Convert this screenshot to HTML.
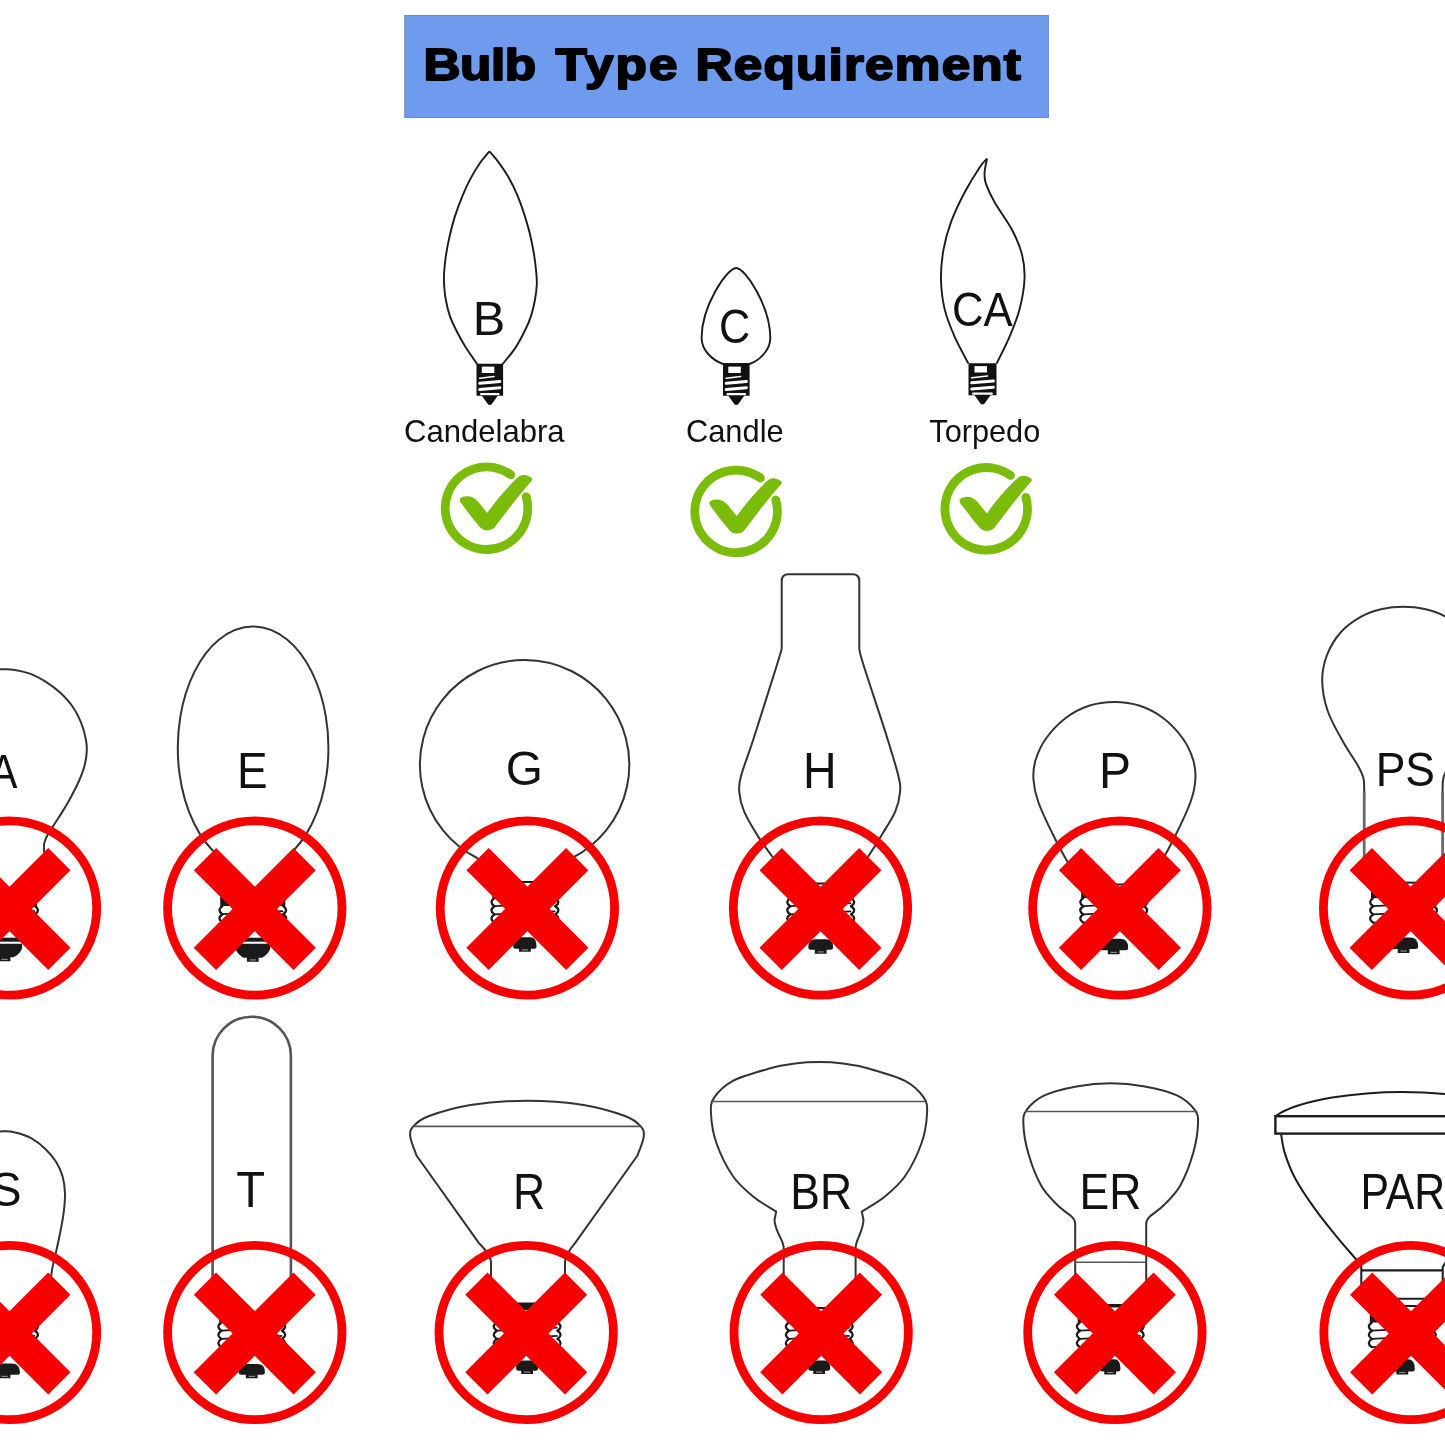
<!DOCTYPE html>
<html lang="en"><head><meta charset="utf-8"><title>Bulb Type Requirement</title>
<style>
html,body{margin:0;padding:0;background:#fff;}
body{width:1445px;height:1445px;overflow:hidden;}
svg{display:block;}
</style></head><body>
<svg width="1445" height="1445" viewBox="0 0 1445 1445">
<rect width="1445" height="1445" fill="#fff"/>
<rect x="404.8" y="15.5" width="643.6" height="102" fill="#6e9bee" stroke="#6589d0" stroke-width="1"/>
<path d="M 489.5 151.3 C 487.9 153.3 483.1 158.5 479.8 163.3 C 476.6 168.0 472.9 174.1 469.9 179.9 C 466.8 185.7 464.1 192.0 461.6 198.1 C 459.1 204.2 456.9 210.0 454.9 216.4 C 452.9 222.8 451.1 229.7 449.6 236.3 C 448.1 243.0 446.7 250.2 445.8 256.3 C 444.9 262.4 444.4 268.2 444.1 272.9 C 443.8 277.6 443.8 280.1 444.1 284.5 C 444.4 288.9 444.8 294.2 445.8 299.5 C 446.7 304.7 448.1 310.8 449.9 316.1 C 451.7 321.3 454.1 326.0 456.6 331.0 C 459.1 336.0 461.5 340.5 464.9 346.0 C 468.3 351.5 475.1 361.1 477.2 364.1" fill="none" stroke="#1c1c1c" stroke-width="1.9" stroke-linejoin="round"/>
<path d="M 489.5 151.3 C 490.9 153.0 495.0 157.4 498.1 161.6 C 501.2 165.8 504.9 171.0 508.1 176.5 C 511.3 182.1 514.6 188.7 517.2 194.8 C 519.8 200.9 521.8 206.7 523.9 213.1 C 525.9 219.5 528.0 226.4 529.7 233.0 C 531.3 239.7 532.7 246.3 533.8 253.0 C 534.9 259.6 535.8 267.6 536.3 272.9 C 536.8 278.2 537.0 280.1 536.8 284.5 C 536.6 288.9 536.0 294.2 535.0 299.5 C 534.0 304.7 532.7 310.8 531.0 316.1 C 529.3 321.3 527.3 325.8 524.7 331.0 C 522.1 336.3 519.2 342.1 515.5 347.6 C 511.9 353.2 504.8 361.3 502.6 364.1" fill="none" stroke="#1c1c1c" stroke-width="1.9" stroke-linejoin="round"/>
<path d="M 476.5 363.7 H 503.1 V 395.7 L 497.8 395.7 L 491.3 404.7 L 488.3 404.7 L 481.8 395.7 H 476.5 Z" fill="#111"/>
<rect x="481.8" y="366.6" width="12.5" height="6.4" fill="#fff"/>
<line x1="479.7" y1="378.3" x2="494.1" y2="376.5" stroke="#fff" stroke-width="1.6" stroke-linecap="round"/>
<line x1="479.7" y1="383.3" x2="499.9" y2="381.5" stroke="#fff" stroke-width="3.0" stroke-linecap="round"/>
<line x1="479.7" y1="389.5" x2="499.9" y2="387.7" stroke="#fff" stroke-width="3.0" stroke-linecap="round"/>
<line x1="481.2" y1="394.1" x2="498.4" y2="394.1" stroke="#fff" stroke-width="2.4" stroke-linecap="round"/>
<path d="M 736.3 268 C 727 268 701.6 306 701.6 338 C 701.6 350 712 360 723 364 L 749.6 364 C 760 360 770.3 350 770.3 338 C 770.3 306 745 268 736.3 268 Z" fill="none" stroke="#1c1c1c" stroke-width="1.9" stroke-linejoin="round"/>
<path d="M 723.0 363.7 H 749.6 V 395.7 L 744.3 395.7 L 737.8 404.7 L 734.8 404.7 L 728.3 395.7 H 723.0 Z" fill="#111"/>
<rect x="728.3" y="366.6" width="12.5" height="6.4" fill="#fff"/>
<line x1="726.2" y1="378.3" x2="740.6" y2="376.5" stroke="#fff" stroke-width="1.6" stroke-linecap="round"/>
<line x1="726.2" y1="383.3" x2="746.4" y2="381.5" stroke="#fff" stroke-width="3.0" stroke-linecap="round"/>
<line x1="726.2" y1="389.5" x2="746.4" y2="387.7" stroke="#fff" stroke-width="3.0" stroke-linecap="round"/>
<line x1="727.7" y1="394.1" x2="744.9" y2="394.1" stroke="#fff" stroke-width="2.4" stroke-linecap="round"/>
<path d="M 987.0 158.7 C 986.6 161.0 984.8 168.2 984.6 172.4 C 984.4 176.6 984.2 178.6 985.9 183.6 C 987.6 188.6 990.2 194.6 994.6 202.3 C 999.0 210.0 1007.4 221.0 1012.0 229.7 C 1016.6 238.4 1019.9 246.3 1022.0 254.6 C 1024.1 262.9 1024.9 270.4 1024.5 279.5 C 1024.1 288.6 1022.0 299.8 1019.5 309.4 C 1017.0 319.0 1013.3 327.9 1009.5 336.9 C 1005.7 345.9 998.8 359.1 996.6 363.5" fill="none" stroke="#1c1c1c" stroke-width="1.9"/>
<path d="M 987.0 158.7 C 985.8 160.1 983.3 161.8 979.6 167.4 C 975.9 173.0 969.5 183.2 964.7 192.3 C 959.9 201.4 954.5 212.6 951.0 222.2 C 947.5 231.8 945.2 240.0 943.5 249.6 C 941.8 259.1 940.8 269.5 941.0 279.5 C 941.2 289.5 942.4 299.8 944.7 309.4 C 947.0 319.0 950.8 327.9 954.7 336.9 C 958.7 345.9 966.1 359.1 968.4 363.5" fill="none" stroke="#1c1c1c" stroke-width="1.9"/>
<path d="M 968.5 363.2 H 996.5 V 395.2 L 990.5 395.2 L 984.0 404.2 L 981.0 404.2 L 974.5 395.2 H 968.5 Z" fill="#111"/>
<rect x="974.5" y="366.1" width="12.5" height="6.4" fill="#fff"/>
<line x1="971.7" y1="377.8" x2="987.5" y2="376.0" stroke="#fff" stroke-width="1.6" stroke-linecap="round"/>
<line x1="971.7" y1="382.8" x2="993.3" y2="381.0" stroke="#fff" stroke-width="3.0" stroke-linecap="round"/>
<line x1="971.7" y1="389.0" x2="993.3" y2="387.2" stroke="#fff" stroke-width="3.0" stroke-linecap="round"/>
<line x1="973.2" y1="393.6" x2="991.8" y2="393.6" stroke="#fff" stroke-width="2.4" stroke-linecap="round"/>
<path d="M 510.8 474.8 A 41.3 41.3 0 1 0 526.2 496.8" fill="none" stroke="#7bbc0a" stroke-width="8.8" stroke-linecap="round"/><path transform="translate(0.0 0.0)" d="M 459.8 500.5 C 459.5 498 462 496.7 466 496.3 C 471 496 474.5 498 477.5 501 L 487.2 512.9 C 497 499 510 484 519.6 476.1 C 523 473.8 529 475.5 532 478.6 C 532.5 479.5 532 480.5 531.4 481 C 520 494 507 511 496 525.5 C 494 528.8 491 530.4 487.2 530.4 C 483.5 530.4 480.8 528.8 479 526 C 472 518 466 509.5 460.4 502.3 Z" fill="#7bbc0a"/>
<path d="M 760.4 478.0 A 41.3 41.3 0 1 0 775.8 500.0" fill="none" stroke="#7bbc0a" stroke-width="8.8" stroke-linecap="round"/><path transform="translate(249.6 3.2)" d="M 459.8 500.5 C 459.5 498 462 496.7 466 496.3 C 471 496 474.5 498 477.5 501 L 487.2 512.9 C 497 499 510 484 519.6 476.1 C 523 473.8 529 475.5 532 478.6 C 532.5 479.5 532 480.5 531.4 481 C 520 494 507 511 496 525.5 C 494 528.8 491 530.4 487.2 530.4 C 483.5 530.4 480.8 528.8 479 526 C 472 518 466 509.5 460.4 502.3 Z" fill="#7bbc0a"/>
<path d="M 1010.5 475.4 A 41.3 41.3 0 1 0 1025.9 497.4" fill="none" stroke="#7bbc0a" stroke-width="8.8" stroke-linecap="round"/><path transform="translate(499.7 0.6)" d="M 459.8 500.5 C 459.5 498 462 496.7 466 496.3 C 471 496 474.5 498 477.5 501 L 487.2 512.9 C 497 499 510 484 519.6 476.1 C 523 473.8 529 475.5 532 478.6 C 532.5 479.5 532 480.5 531.4 481 C 520 494 507 511 496 525.5 C 494 528.8 491 530.4 487.2 530.4 C 483.5 530.4 480.8 528.8 479 526 C 472 518 466 509.5 460.4 502.3 Z" fill="#7bbc0a"/>
<path d="M 44.1 864.2 C 44.1 861.9 44.0 854.0 44.1 850.5 C 44.1 846.9 43.8 845.5 44.3 843.0 C 44.9 840.5 45.8 838.4 47.3 835.5 C 48.9 832.6 51.1 829.5 53.5 825.6 C 56.0 821.6 59.4 816.6 62.3 811.9 C 65.2 807.1 68.3 801.9 71.0 796.9 C 73.7 791.9 76.3 786.9 78.5 782.0 C 80.7 777.0 82.8 772.0 84.2 767.0 C 85.6 762.0 86.4 756.6 86.7 752.1 C 87.0 747.5 86.9 744.6 85.9 739.6 C 85.0 734.6 83.2 727.8 80.9 722.2 C 78.7 716.6 75.8 711.0 72.2 706.0 C 68.7 701.0 64.3 696.5 59.8 692.3 C 55.2 688.2 49.8 684.2 44.8 681.1 C 39.9 678.0 34.9 675.5 29.9 673.6 C 24.9 671.8 19.2 670.6 14.9 669.9 C 10.7 669.2 8.0 669.3 4.5 669.3 C 1.0 669.3 -1.7 669.2 -5.9 669.9 C -10.2 670.6 -15.9 671.8 -20.9 673.6 C -25.9 675.5 -30.9 678.0 -35.8 681.1 C -40.8 684.2 -46.2 688.2 -50.8 692.3 C -55.3 696.5 -59.7 701.0 -63.2 706.0 C -66.8 711.0 -69.7 716.6 -71.9 722.2 C -74.2 727.8 -76.0 734.6 -76.9 739.6 C -77.9 744.6 -78.0 747.5 -77.7 752.1 C -77.4 756.6 -76.6 762.0 -75.2 767.0 C -73.8 772.0 -71.7 777.0 -69.5 782.0 C -67.3 786.9 -64.7 791.9 -62.0 796.9 C -59.3 801.9 -56.2 807.1 -53.3 811.9 C -50.4 816.6 -47.0 821.6 -44.5 825.6 C -42.1 829.5 -39.9 832.6 -38.3 835.5 C -36.8 838.4 -35.9 840.5 -35.3 843.0 C -34.8 845.5 -35.1 846.9 -35.1 850.5 C -35.0 854.0 -35.1 861.9 -35.1 864.2" fill="none" stroke="#333" stroke-width="2.0" stroke-linejoin="round"/>
<rect x="-28.1" y="897.0" width="65.1" height="9" fill="#1a1a1a"/>
<path d="M -25.9 906.0 q -6 4.1 0 8.2 M 35.0 906.0 q 6 4.1 0 8.2" fill="none" stroke="#1a1a1a" stroke-width="2.3" stroke-linecap="round"/>
<line x1="-25.9" y1="914.2" x2="35.0" y2="911.2" stroke="#1a1a1a" stroke-width="1.8"/>
<path d="M -25.9 914.2 q -6 4.1 0 8.2 M 35.0 914.2 q 6 4.1 0 8.2" fill="none" stroke="#1a1a1a" stroke-width="2.3" stroke-linecap="round"/>
<line x1="-25.9" y1="922.4" x2="35.0" y2="919.4" stroke="#1a1a1a" stroke-width="1.8"/>
<path d="M -25.9 922.4 q -6 4.1 0 8.2 M 35.0 922.4 q 6 4.1 0 8.2" fill="none" stroke="#1a1a1a" stroke-width="2.3" stroke-linecap="round"/>
<line x1="-25.9" y1="930.6" x2="35.0" y2="927.6" stroke="#1a1a1a" stroke-width="1.8"/>
<rect x="-15.0" y="937.7" width="39.0" height="4" fill="#1a1a1a"/>
<path d="M -13.0 943.7 H 22.0 V 948.2 C 21.0 952.7 15.3 956.8 13.2 957.3 H 10.4 V 961.3 H -1.4 V 957.3 H -4.2 C -6.3 956.8 -12.0 952.7 -13.0 948.2 Z" fill="#1a1a1a"/>
<rect x="1.3" y="958.8" width="6.4" height="1.2" fill="#8a8a8a"/>
<path d="M 220.1 876 L 218.6 856.0 A 75.3 121.5 0 1 1 287.6 856.0 L 286.1 876" fill="none" stroke="#333" stroke-width="2.0" stroke-linejoin="round"/>
<rect x="220.2" y="897.0" width="65.1" height="9" fill="#1a1a1a"/>
<path d="M 222.4 906.0 q -6 4.1 0 8.2 M 283.2 906.0 q 6 4.1 0 8.2" fill="none" stroke="#1a1a1a" stroke-width="2.3" stroke-linecap="round"/>
<line x1="222.4" y1="914.2" x2="283.2" y2="911.2" stroke="#1a1a1a" stroke-width="1.8"/>
<path d="M 222.4 914.2 q -6 4.1 0 8.2 M 283.2 914.2 q 6 4.1 0 8.2" fill="none" stroke="#1a1a1a" stroke-width="2.3" stroke-linecap="round"/>
<line x1="222.4" y1="922.4" x2="283.2" y2="919.4" stroke="#1a1a1a" stroke-width="1.8"/>
<path d="M 222.4 922.4 q -6 4.1 0 8.2 M 283.2 922.4 q 6 4.1 0 8.2" fill="none" stroke="#1a1a1a" stroke-width="2.3" stroke-linecap="round"/>
<line x1="222.4" y1="930.6" x2="283.2" y2="927.6" stroke="#1a1a1a" stroke-width="1.8"/>
<rect x="233.3" y="937.7" width="39.0" height="4" fill="#1a1a1a"/>
<path d="M 235.3 943.7 H 270.3 V 948.2 C 269.3 952.7 263.7 957.3 261.6 957.8 H 258.7 V 961.8 H 246.9 V 957.8 H 244.1 C 242.0 957.3 236.3 952.7 235.3 948.2 Z" fill="#1a1a1a"/>
<rect x="249.6" y="959.3" width="6.4" height="1.2" fill="#8a8a8a"/>
<path d="M 557.6 880 L 572.1 858.0 A 104.7 104.7 0 1 0 477.1 858.0 L 491.6 880" fill="none" stroke="#333" stroke-width="2.0" stroke-linejoin="round"/>
<rect x="509.9" y="881.0" width="30.0" height="2.0" fill="#1a1a1a"/>
<rect x="492.3" y="889.0" width="65.1" height="9" fill="#1a1a1a"/>
<path d="M 494.4 898.0 q -6 4.1 0 8.2 M 555.4 898.0 q 6 4.1 0 8.2" fill="none" stroke="#1a1a1a" stroke-width="2.3" stroke-linecap="round"/>
<line x1="494.4" y1="906.2" x2="555.4" y2="903.2" stroke="#1a1a1a" stroke-width="1.8"/>
<path d="M 494.4 906.2 q -6 4.1 0 8.2 M 555.4 906.2 q 6 4.1 0 8.2" fill="none" stroke="#1a1a1a" stroke-width="2.3" stroke-linecap="round"/>
<line x1="494.4" y1="914.4" x2="555.4" y2="911.4" stroke="#1a1a1a" stroke-width="1.8"/>
<path d="M 494.4 914.4 q -6 4.1 0 8.2 M 555.4 914.4 q 6 4.1 0 8.2" fill="none" stroke="#1a1a1a" stroke-width="2.3" stroke-linecap="round"/>
<line x1="494.4" y1="922.6" x2="555.4" y2="919.6" stroke="#1a1a1a" stroke-width="1.8"/>
<path d="M 513.2 946.3 Q 513.2 937.3 519.6 937.3 H 530.2 Q 536.6 937.3 536.6 946.3 Q 536.6 948.8 534.1 948.8 H 530.8 V 951.8 H 519.0 V 948.8 H 515.7 Q 513.2 948.8 513.2 946.3 Z" fill="#1a1a1a"/>
<rect x="521.7" y="949.3" width="6.4" height="1.2" fill="#8a8a8a"/>
<path d="M 781.7 649.1 V 581 Q 781.7 574.3 788.5 574.3 H 852.5 Q 859.3 574.3 859.3 581 V 649.1" fill="none" stroke="#333" stroke-width="2.0" stroke-linejoin="round"/>
<path d="M 781.7 649.1 C 780.7 652.3 780.6 653.4 775.9 668.2 C 771.2 683.1 759.5 720.2 753.7 738.2 C 747.9 756.2 743.3 767.4 740.9 776.4 C 738.5 785.4 738.8 786.5 739.3 792.3 C 739.8 798.1 740.9 804.0 744.1 811.4 C 747.3 818.8 753.6 829.3 758.4 836.9 C 763.1 844.5 768.0 850.6 772.6 857.0 C 777.2 863.4 783.8 872.0 786.0 875.0" fill="none" stroke="#333" stroke-width="2.0" stroke-linejoin="round"/>
<path d="M 859.3 649.1 C 860.0 651.8 858.8 650.1 863.5 665.0 C 868.2 679.9 881.5 719.6 887.3 738.2 C 893.1 756.8 896.4 767.4 898.5 776.4 C 900.6 785.4 900.5 786.5 900.0 792.3 C 899.5 798.1 898.2 804.5 895.3 811.4 C 892.4 818.3 887.0 826.3 882.5 833.7 C 878.0 841.1 873.1 849.1 868.5 856.0 C 863.9 862.9 857.2 871.8 855.0 875.0" fill="none" stroke="#333" stroke-width="2.0" stroke-linejoin="round"/>
<rect x="790.7" y="882.5" width="60.0" height="2.0" fill="#1a1a1a"/>
<rect x="788.2" y="889.0" width="65.1" height="9" fill="#1a1a1a"/>
<path d="M 790.2 898.0 q -6 4.1 0 8.2 M 851.2 898.0 q 6 4.1 0 8.2" fill="none" stroke="#1a1a1a" stroke-width="2.3" stroke-linecap="round"/>
<line x1="790.2" y1="906.2" x2="851.2" y2="903.2" stroke="#1a1a1a" stroke-width="1.8"/>
<path d="M 790.2 906.2 q -6 4.1 0 8.2 M 851.2 906.2 q 6 4.1 0 8.2" fill="none" stroke="#1a1a1a" stroke-width="2.3" stroke-linecap="round"/>
<line x1="790.2" y1="914.4" x2="851.2" y2="911.4" stroke="#1a1a1a" stroke-width="1.8"/>
<path d="M 790.2 914.4 q -6 4.1 0 8.2 M 851.2 914.4 q 6 4.1 0 8.2" fill="none" stroke="#1a1a1a" stroke-width="2.3" stroke-linecap="round"/>
<line x1="790.2" y1="922.6" x2="851.2" y2="919.6" stroke="#1a1a1a" stroke-width="1.8"/>
<path d="M 808.3 947.3 Q 808.3 939.3 815.1 939.3 H 826.3 Q 833.1 939.3 833.1 947.3 Q 833.1 949.8 830.6 949.8 H 826.6 V 953.8 H 814.8 V 949.8 H 810.8 Q 808.3 949.8 808.3 947.3 Z" fill="#1a1a1a"/>
<rect x="817.5" y="951.3" width="6.4" height="1.2" fill="#8a8a8a"/>
<path d="M 1148.3 880.0 C 1150.5 877.0 1156.7 869.3 1161.3 861.7 C 1165.9 854.1 1171.1 844.2 1176.0 834.3 C 1180.9 824.3 1187.3 811.0 1190.5 802.0 C 1193.7 793.0 1194.9 787.0 1195.3 780.0 C 1195.8 773.0 1195.3 766.9 1193.2 760.0 C 1191.1 753.1 1187.8 745.5 1182.8 738.5 C 1177.8 731.5 1170.3 723.5 1163.1 718.0 C 1155.9 712.5 1147.9 708.5 1139.8 705.8 C 1131.7 703.1 1122.9 702.0 1114.4 702.0 C 1105.9 702.0 1097.1 703.1 1089.0 705.8 C 1080.9 708.5 1072.9 712.5 1065.7 718.0 C 1058.5 723.5 1051.0 731.5 1046.0 738.5 C 1041.0 745.5 1037.7 753.1 1035.6 760.0 C 1033.5 766.9 1033.0 773.0 1033.5 780.0 C 1034.0 787.0 1035.1 793.0 1038.3 802.0 C 1041.5 811.0 1047.9 824.3 1052.8 834.3 C 1057.7 844.2 1062.9 854.1 1067.5 861.7 C 1072.1 869.3 1078.3 877.0 1080.5 880.0" fill="none" stroke="#333" stroke-width="2.0" stroke-linejoin="round"/>
<rect x="1083.7" y="883.5" width="60.0" height="2.0" fill="#1a1a1a"/>
<rect x="1081.2" y="889.0" width="65.1" height="9" fill="#1a1a1a"/>
<path d="M 1083.2 898.0 q -6 4.1 0 8.2 M 1144.2 898.0 q 6 4.1 0 8.2" fill="none" stroke="#1a1a1a" stroke-width="2.3" stroke-linecap="round"/>
<line x1="1083.2" y1="906.2" x2="1144.2" y2="903.2" stroke="#1a1a1a" stroke-width="1.8"/>
<path d="M 1083.2 906.2 q -6 4.1 0 8.2 M 1144.2 906.2 q 6 4.1 0 8.2" fill="none" stroke="#1a1a1a" stroke-width="2.3" stroke-linecap="round"/>
<line x1="1083.2" y1="914.4" x2="1144.2" y2="911.4" stroke="#1a1a1a" stroke-width="1.8"/>
<path d="M 1083.2 914.4 q -6 4.1 0 8.2 M 1144.2 914.4 q 6 4.1 0 8.2" fill="none" stroke="#1a1a1a" stroke-width="2.3" stroke-linecap="round"/>
<line x1="1083.2" y1="922.6" x2="1144.2" y2="919.6" stroke="#1a1a1a" stroke-width="1.8"/>
<path d="M 1099.2 947.8 Q 1099.2 938.8 1107.2 938.8 H 1120.2 Q 1128.2 938.8 1128.2 947.8 Q 1128.2 950.3 1125.7 950.3 H 1119.6 V 954.3 H 1107.8 V 950.3 H 1101.7 Q 1099.2 950.3 1099.2 947.8 Z" fill="#1a1a1a"/>
<rect x="1110.5" y="951.8" width="6.4" height="1.2" fill="#8a8a8a"/>
<path d="M 1442.6 800.0 C 1442.6 798.3 1442.5 793.7 1442.6 790.0 C 1442.7 786.3 1442.4 782.0 1443.4 778.0 C 1444.4 774.0 1445.3 772.0 1448.7 765.9 C 1452.1 759.8 1458.8 750.6 1463.9 741.5 C 1469.0 732.4 1475.7 721.1 1479.1 711.0 C 1482.6 700.9 1484.5 689.9 1484.6 680.6 C 1484.7 671.3 1482.9 663.1 1479.8 655.0 C 1476.7 646.9 1471.5 638.4 1465.8 632.0 C 1460.1 625.6 1452.4 620.4 1445.6 616.6 C 1438.8 612.8 1431.8 610.6 1424.8 609.0 C 1417.8 607.4 1410.5 606.8 1403.4 606.8 C 1396.3 606.8 1389.0 607.4 1382.0 609.0 C 1375.0 610.6 1368.0 612.8 1361.2 616.6 C 1354.4 620.4 1346.7 625.6 1341.0 632.0 C 1335.3 638.4 1330.1 646.9 1327.0 655.0 C 1323.9 663.1 1322.1 671.3 1322.2 680.6 C 1322.3 689.9 1324.2 700.9 1327.7 711.0 C 1331.2 721.1 1337.8 732.4 1342.9 741.5 C 1348.0 750.6 1354.7 759.8 1358.1 765.9 C 1361.5 772.0 1362.4 774.0 1363.4 778.0 C 1364.4 782.0 1364.1 786.3 1364.2 790.0 C 1364.3 793.7 1364.2 798.3 1364.2 800.0" fill="none" stroke="#333" stroke-width="2.0" stroke-linejoin="round"/>
<path d="M 1364.2 792 V 880 M 1442.6 792 V 880" fill="none" stroke="#666" stroke-width="2.7" stroke-linejoin="round"/>
<rect x="1373.6" y="881.7" width="60.0" height="1.9" fill="#1a1a1a"/>
<rect x="1371.0" y="889.0" width="65.1" height="9" fill="#1a1a1a"/>
<path d="M 1373.1 898.0 q -6 4.1 0 8.2 M 1434.0 898.0 q 6 4.1 0 8.2" fill="none" stroke="#1a1a1a" stroke-width="2.3" stroke-linecap="round"/>
<line x1="1373.1" y1="906.2" x2="1434.0" y2="903.2" stroke="#1a1a1a" stroke-width="1.8"/>
<path d="M 1373.1 906.2 q -6 4.1 0 8.2 M 1434.0 906.2 q 6 4.1 0 8.2" fill="none" stroke="#1a1a1a" stroke-width="2.3" stroke-linecap="round"/>
<line x1="1373.1" y1="914.4" x2="1434.0" y2="911.4" stroke="#1a1a1a" stroke-width="1.8"/>
<path d="M 1373.1 914.4 q -6 4.1 0 8.2 M 1434.0 914.4 q 6 4.1 0 8.2" fill="none" stroke="#1a1a1a" stroke-width="2.3" stroke-linecap="round"/>
<line x1="1373.1" y1="922.6" x2="1434.0" y2="919.6" stroke="#1a1a1a" stroke-width="1.8"/>
<path d="M 1389.1 946.4 Q 1389.1 937.4 1397.1 937.4 H 1410.1 Q 1418.1 937.4 1418.1 946.4 Q 1418.1 948.9 1415.6 948.9 H 1409.5 V 952.9 H 1397.7 V 948.9 H 1391.6 Q 1389.1 948.9 1389.1 946.4 Z" fill="#1a1a1a"/>
<rect x="1400.4" y="950.4" width="6.4" height="1.2" fill="#8a8a8a"/>
<path d="M 50.7 1291.2 C 50.8 1288.4 51.0 1278.8 51.4 1274.4 C 51.8 1270.1 52.1 1269.3 53.0 1264.9 C 54.0 1260.5 55.6 1254.1 56.9 1248.1 C 58.2 1242.2 59.7 1235.4 60.9 1229.0 C 62.1 1222.7 63.4 1215.9 64.0 1209.9 C 64.7 1203.9 65.2 1198.8 65.0 1193.2 C 64.8 1187.6 64.1 1181.6 62.6 1176.5 C 61.1 1171.3 59.0 1166.7 56.2 1162.1 C 53.3 1157.5 49.6 1153.0 45.4 1149.0 C 41.2 1145.0 36.2 1141.0 31.1 1138.2 C 25.9 1135.4 18.8 1133.4 14.3 1132.3 C 9.9 1131.1 7.8 1131.3 4.5 1131.3 C 1.2 1131.3 -0.9 1131.1 -5.3 1132.3 C -9.8 1133.4 -16.9 1135.4 -22.1 1138.2 C -27.2 1141.0 -32.2 1145.0 -36.4 1149.0 C -40.6 1153.0 -44.3 1157.5 -47.2 1162.1 C -50.0 1166.7 -52.1 1171.3 -53.6 1176.5 C -55.1 1181.6 -55.8 1187.6 -56.0 1193.2 C -56.2 1198.8 -55.7 1203.9 -55.0 1209.9 C -54.4 1215.9 -53.1 1222.7 -51.9 1229.0 C -50.7 1235.4 -49.2 1242.2 -47.9 1248.1 C -46.6 1254.1 -45.0 1260.5 -44.0 1264.9 C -43.1 1269.3 -42.8 1270.1 -42.4 1274.4 C -42.0 1278.8 -41.8 1288.4 -41.7 1291.2" fill="none" stroke="#333" stroke-width="2.0" stroke-linejoin="round"/>
<rect x="-28.1" y="1313.5" width="65.1" height="9" fill="#1a1a1a"/>
<path d="M -25.9 1322.5 q -6 4.1 0 8.2 M 35.0 1322.5 q 6 4.1 0 8.2" fill="none" stroke="#1a1a1a" stroke-width="2.3" stroke-linecap="round"/>
<line x1="-25.9" y1="1330.7" x2="35.0" y2="1327.7" stroke="#1a1a1a" stroke-width="1.8"/>
<path d="M -25.9 1330.7 q -6 4.1 0 8.2 M 35.0 1330.7 q 6 4.1 0 8.2" fill="none" stroke="#1a1a1a" stroke-width="2.3" stroke-linecap="round"/>
<line x1="-25.9" y1="1338.9" x2="35.0" y2="1335.9" stroke="#1a1a1a" stroke-width="1.8"/>
<path d="M -25.9 1338.9 q -6 4.1 0 8.2 M 35.0 1338.9 q 6 4.1 0 8.2" fill="none" stroke="#1a1a1a" stroke-width="2.3" stroke-linecap="round"/>
<line x1="-25.9" y1="1347.1" x2="35.0" y2="1344.1" stroke="#1a1a1a" stroke-width="1.8"/>
<path d="M -11.0 1372.3 Q -11.0 1363.5 -2.5 1363.5 H 11.5 Q 20.0 1363.5 20.0 1372.3 Q 20.0 1374.8 17.5 1374.8 H 10.4 V 1378.3 H -1.4 V 1374.8 H -8.5 Q -11.0 1374.8 -11.0 1372.3 Z" fill="#1a1a1a"/>
<rect x="1.3" y="1375.8" width="6.4" height="1.2" fill="#8a8a8a"/>
<path d="M 212.6 1300 V 1055.8 A 39.15 39.15 0 0 1 290.9 1055.8 V 1300" fill="none" stroke="#555" stroke-width="2.6" stroke-linejoin="round"/>
<rect x="219.2" y="1313.5" width="65.1" height="9" fill="#1a1a1a"/>
<path d="M 221.3 1322.5 q -6 4.1 0 8.2 M 282.2 1322.5 q 6 4.1 0 8.2" fill="none" stroke="#1a1a1a" stroke-width="2.3" stroke-linecap="round"/>
<line x1="221.3" y1="1330.7" x2="282.2" y2="1327.7" stroke="#1a1a1a" stroke-width="1.8"/>
<path d="M 221.3 1330.7 q -6 4.1 0 8.2 M 282.2 1330.7 q 6 4.1 0 8.2" fill="none" stroke="#1a1a1a" stroke-width="2.3" stroke-linecap="round"/>
<line x1="221.3" y1="1338.9" x2="282.2" y2="1335.9" stroke="#1a1a1a" stroke-width="1.8"/>
<path d="M 221.3 1338.9 q -6 4.1 0 8.2 M 282.2 1338.9 q 6 4.1 0 8.2" fill="none" stroke="#1a1a1a" stroke-width="2.3" stroke-linecap="round"/>
<line x1="221.3" y1="1347.1" x2="282.2" y2="1344.1" stroke="#1a1a1a" stroke-width="1.8"/>
<path d="M 238.7 1372.3 Q 238.7 1363.9 245.9 1363.9 H 257.6 Q 264.9 1363.9 264.9 1372.3 Q 264.9 1374.8 262.4 1374.8 H 257.6 V 1378.3 H 245.8 V 1374.8 H 241.2 Q 238.7 1374.8 238.7 1372.3 Z" fill="#1a1a1a"/>
<rect x="248.6" y="1375.8" width="6.4" height="1.2" fill="#8a8a8a"/>
<path d="M 565 1300 V 1262 Q 565 1255 575.4 1242.7 L 637.5 1155.5 C 638.5 1152.4 643.2 1141.6 643.7 1136.8 C 644.2 1132.0 643.9 1129.9 640.8 1126.4 C 637.7 1122.9 634.5 1119.6 625.0 1116.0 C 615.5 1112.4 599.8 1107.5 583.5 1104.9 C 567.2 1102.4 545.8 1100.7 527.0 1100.7 C 508.2 1100.7 486.8 1102.4 470.5 1104.9 C 454.2 1107.5 438.6 1112.4 429.0 1116.0 C 419.4 1119.6 416.3 1122.9 413.2 1126.4 C 410.1 1129.9 409.8 1132.0 410.3 1136.8 C 410.9 1141.6 415.5 1152.4 416.5 1155.5 L 478.6 1242.7 Q 491 1255 491 1262 V 1300" fill="none" stroke="#333" stroke-width="2.0" stroke-linejoin="round"/>
<path d="M 413.2 1126.4 H 640.8" fill="none" stroke="#555" stroke-width="1.6" stroke-linejoin="round"/>
<rect x="507.1" y="1302.5" width="40.0" height="7.5" fill="#1a1a1a"/>
<rect x="494.6" y="1313.5" width="65.1" height="9" fill="#1a1a1a"/>
<path d="M 496.7 1322.5 q -6 4.1 0 8.2 M 557.6 1322.5 q 6 4.1 0 8.2" fill="none" stroke="#1a1a1a" stroke-width="2.3" stroke-linecap="round"/>
<line x1="496.7" y1="1330.7" x2="557.6" y2="1327.7" stroke="#1a1a1a" stroke-width="1.8"/>
<path d="M 496.7 1330.7 q -6 4.1 0 8.2 M 557.6 1330.7 q 6 4.1 0 8.2" fill="none" stroke="#1a1a1a" stroke-width="2.3" stroke-linecap="round"/>
<line x1="496.7" y1="1338.9" x2="557.6" y2="1335.9" stroke="#1a1a1a" stroke-width="1.8"/>
<path d="M 496.7 1338.9 q -6 4.1 0 8.2 M 557.6 1338.9 q 6 4.1 0 8.2" fill="none" stroke="#1a1a1a" stroke-width="2.3" stroke-linecap="round"/>
<line x1="496.7" y1="1347.1" x2="557.6" y2="1344.1" stroke="#1a1a1a" stroke-width="1.8"/>
<path d="M 516.1 1368.2 Q 516.1 1360.6 522.1 1360.6 H 532.1 Q 538.1 1360.6 538.1 1368.2 Q 538.1 1370.7 535.6 1370.7 H 533.0 V 1374.0 H 521.2 V 1370.7 H 518.6 Q 516.1 1370.7 516.1 1368.2 Z" fill="#1a1a1a"/>
<rect x="523.9" y="1371.5" width="6.4" height="1.2" fill="#8a8a8a"/>
<path d="M 855.6 1300 V 1248 C 855.6 1240 863 1232 863.5 1220 L 861.8 1211.5 C 865.5 1209.1 877.1 1202.9 884.3 1197.0 C 891.5 1191.1 898.8 1185.3 905.0 1176.3 C 911.2 1167.3 917.9 1153.4 921.6 1143.0 C 925.3 1132.6 926.6 1121.6 927.0 1114.0 C 927.4 1106.4 927.4 1102.9 923.7 1097.4 C 920.0 1091.9 914.4 1085.7 905.0 1080.8 C 895.6 1075.9 877.9 1071.2 867.6 1068.3 C 857.3 1065.4 851.1 1064.5 843.0 1063.5 C 834.9 1062.5 827.0 1062.1 819.0 1062.1 C 811.0 1062.1 803.1 1062.5 795.0 1063.5 C 786.9 1064.5 780.7 1065.4 770.4 1068.3 C 760.1 1071.2 742.4 1075.9 733.0 1080.8 C 723.6 1085.7 718.0 1091.9 714.3 1097.4 C 710.6 1102.9 710.6 1106.4 711.0 1114.0 C 711.4 1121.6 712.7 1132.6 716.4 1143.0 C 720.1 1153.4 726.8 1167.3 733.0 1176.3 C 739.2 1185.3 746.5 1191.1 753.7 1197.0 C 760.9 1202.9 772.5 1209.1 776.2 1211.5 L 774.5 1220 C 775 1232 783.7 1240 783.7 1248 V 1300" fill="none" stroke="#333" stroke-width="2.0" stroke-linejoin="round"/>
<path d="M 712.2 1101.5 H 926.2" fill="none" stroke="#555" stroke-width="1.6" stroke-linejoin="round"/>
<rect x="804.2" y="1307.0" width="30.0" height="2.0" fill="#1a1a1a"/>
<rect x="786.7" y="1313.5" width="65.1" height="9" fill="#1a1a1a"/>
<path d="M 788.8 1322.5 q -6 4.1 0 8.2 M 849.7 1322.5 q 6 4.1 0 8.2" fill="none" stroke="#1a1a1a" stroke-width="2.3" stroke-linecap="round"/>
<line x1="788.8" y1="1330.7" x2="849.7" y2="1327.7" stroke="#1a1a1a" stroke-width="1.8"/>
<path d="M 788.8 1330.7 q -6 4.1 0 8.2 M 849.7 1330.7 q 6 4.1 0 8.2" fill="none" stroke="#1a1a1a" stroke-width="2.3" stroke-linecap="round"/>
<line x1="788.8" y1="1338.9" x2="849.7" y2="1335.9" stroke="#1a1a1a" stroke-width="1.8"/>
<path d="M 788.8 1338.9 q -6 4.1 0 8.2 M 849.7 1338.9 q 6 4.1 0 8.2" fill="none" stroke="#1a1a1a" stroke-width="2.3" stroke-linecap="round"/>
<line x1="788.8" y1="1347.1" x2="849.7" y2="1344.1" stroke="#1a1a1a" stroke-width="1.8"/>
<path d="M 808.2 1368.2 Q 808.2 1360.6 814.2 1360.6 H 824.2 Q 830.2 1360.6 830.2 1368.2 Q 830.2 1370.7 827.7 1370.7 H 825.1 V 1374.0 H 813.3 V 1370.7 H 810.7 Q 808.2 1370.7 808.2 1368.2 Z" fill="#1a1a1a"/>
<rect x="816.0" y="1371.5" width="6.4" height="1.2" fill="#8a8a8a"/>
<path d="M 1146.2 1300 V 1224 Q 1146.2 1219.5 1150.4 1216 L 1150.4 1216.0 C 1152.7 1214.1 1159.2 1209.9 1164.2 1204.8 C 1169.2 1199.7 1175.5 1194.1 1180.3 1185.5 C 1185.1 1176.9 1190.2 1163.5 1193.1 1153.3 C 1196.1 1143.1 1197.7 1131.6 1198.0 1124.4 C 1198.3 1117.2 1198.2 1114.7 1194.7 1109.9 C 1191.2 1105.1 1185.3 1099.3 1177.0 1095.4 C 1168.7 1091.5 1156.0 1088.4 1144.9 1086.4 C 1133.9 1084.4 1122.1 1083.2 1110.7 1083.2 C 1099.3 1083.2 1087.5 1084.4 1076.5 1086.4 C 1065.5 1088.4 1052.7 1091.5 1044.4 1095.4 C 1036.1 1099.3 1030.2 1105.1 1026.7 1109.9 C 1023.2 1114.7 1023.1 1117.2 1023.4 1124.4 C 1023.7 1131.6 1025.3 1143.1 1028.3 1153.3 C 1031.2 1163.5 1036.3 1176.9 1041.1 1185.5 C 1045.9 1194.1 1052.2 1199.7 1057.2 1204.8 C 1062.2 1209.9 1068.7 1214.1 1071.0 1216.0 Q 1075.2 1219.5 1075.2 1224 V 1300" fill="none" stroke="#333" stroke-width="2.0" stroke-linejoin="round"/>
<path d="M 1025 1111.5 H 1197.5" fill="none" stroke="#555" stroke-width="1.6" stroke-linejoin="round"/>
<path d="M 1075.2 1262.3 H 1146.2" fill="none" stroke="#555" stroke-width="1.6" stroke-linejoin="round"/>
<rect x="1080.2" y="1304.0" width="60.0" height="3.5" fill="#1a1a1a"/>
<rect x="1077.7" y="1313.5" width="65.1" height="9" fill="#1a1a1a"/>
<path d="M 1079.8 1322.5 q -6 4.1 0 8.2 M 1140.7 1322.5 q 6 4.1 0 8.2" fill="none" stroke="#1a1a1a" stroke-width="2.3" stroke-linecap="round"/>
<line x1="1079.8" y1="1330.7" x2="1140.7" y2="1327.7" stroke="#1a1a1a" stroke-width="1.8"/>
<path d="M 1079.8 1330.7 q -6 4.1 0 8.2 M 1140.7 1330.7 q 6 4.1 0 8.2" fill="none" stroke="#1a1a1a" stroke-width="2.3" stroke-linecap="round"/>
<line x1="1079.8" y1="1338.9" x2="1140.7" y2="1335.9" stroke="#1a1a1a" stroke-width="1.8"/>
<path d="M 1079.8 1338.9 q -6 4.1 0 8.2 M 1140.7 1338.9 q 6 4.1 0 8.2" fill="none" stroke="#1a1a1a" stroke-width="2.3" stroke-linecap="round"/>
<line x1="1079.8" y1="1347.1" x2="1140.7" y2="1344.1" stroke="#1a1a1a" stroke-width="1.8"/>
<path d="M 1100.0 1368.9 Q 1100.0 1359.3 1105.6 1359.3 H 1114.8 Q 1120.4 1359.3 1120.4 1368.9 Q 1120.4 1371.4 1117.9 1371.4 H 1116.1 V 1374.4 H 1104.3 V 1371.4 H 1102.5 Q 1100.0 1371.4 1100.0 1368.9 Z" fill="#1a1a1a"/>
<rect x="1107.0" y="1371.9" width="6.4" height="1.2" fill="#8a8a8a"/>
<path d="M 1275.4 1116.2 C 1300 1099 1360 1091.9 1402 1091.9 C 1444 1091.9 1504 1099 1528.6 1116.2" fill="none" stroke="#1c1c1c" stroke-width="2"/>
<rect x="1275.4" y="1116.2" width="253.2" height="17.4" fill="none" stroke="#1c1c1c" stroke-width="2.4"/>
<path d="M 1281.0 1133.6 C 1281.6 1136.8 1282.4 1145.5 1284.8 1153.1 C 1287.2 1160.7 1290.4 1169.6 1295.5 1179.0 C 1300.6 1188.4 1308.2 1199.5 1315.3 1209.4 C 1322.4 1219.3 1331.2 1230.0 1338.1 1238.4 C 1344.9 1246.8 1352.5 1254.9 1356.4 1259.7 C 1360.3 1264.5 1360.5 1266.0 1361.3 1267.3 V 1300" fill="none" stroke="#1c1c1c" stroke-width="2.0" stroke-linejoin="round"/>
<path d="M 1523.0 1133.6 C 1522.4 1136.8 1521.6 1145.5 1519.2 1153.1 C 1516.8 1160.7 1513.6 1169.6 1508.5 1179.0 C 1503.4 1188.4 1495.8 1199.5 1488.7 1209.4 C 1481.6 1219.3 1472.8 1230.0 1465.9 1238.4 C 1459.1 1246.8 1451.5 1254.9 1447.6 1259.7 C 1443.7 1264.5 1443.5 1266.0 1442.7 1267.3 V 1300" fill="none" stroke="#1c1c1c" stroke-width="2.0" stroke-linejoin="round"/>
<path d="M 1361.3 1270.4 H 1443" fill="none" stroke="#1c1c1c" stroke-width="2.4"/>
<path d="M 1372 1298.7 H 1432" fill="none" stroke="#1c1c1c" stroke-width="2"/>
<rect x="1372.3" y="1305.0" width="60.0" height="2.0" fill="#1a1a1a"/>
<rect x="1369.8" y="1313.5" width="65.1" height="9" fill="#1a1a1a"/>
<path d="M 1371.8 1322.5 q -6 4.1 0 8.2 M 1432.8 1322.5 q 6 4.1 0 8.2" fill="none" stroke="#1a1a1a" stroke-width="2.3" stroke-linecap="round"/>
<line x1="1371.8" y1="1330.7" x2="1432.8" y2="1327.7" stroke="#1a1a1a" stroke-width="1.8"/>
<path d="M 1371.8 1330.7 q -6 4.1 0 8.2 M 1432.8 1330.7 q 6 4.1 0 8.2" fill="none" stroke="#1a1a1a" stroke-width="2.3" stroke-linecap="round"/>
<line x1="1371.8" y1="1338.9" x2="1432.8" y2="1335.9" stroke="#1a1a1a" stroke-width="1.8"/>
<path d="M 1371.8 1338.9 q -6 4.1 0 8.2 M 1432.8 1338.9 q 6 4.1 0 8.2" fill="none" stroke="#1a1a1a" stroke-width="2.3" stroke-linecap="round"/>
<line x1="1371.8" y1="1347.1" x2="1432.8" y2="1344.1" stroke="#1a1a1a" stroke-width="1.8"/>
<path d="M 1389.8 1368.9 Q 1389.8 1359.3 1396.7 1359.3 H 1407.9 Q 1414.8 1359.3 1414.8 1368.9 Q 1414.8 1371.4 1412.3 1371.4 H 1408.2 V 1374.4 H 1396.4 V 1371.4 H 1392.3 Q 1389.8 1371.4 1389.8 1368.9 Z" fill="#1a1a1a"/>
<rect x="1399.1" y="1371.9" width="6.4" height="1.2" fill="#8a8a8a"/>
<g opacity="0.999">
<text transform="translate(0 80.40) scale(1.1500 1)" font-family="'Liberation Sans', sans-serif" font-weight="bold" font-size="44.60" fill="#000" stroke="#000" stroke-width="1.9" stroke-linejoin="round"><tspan x="368.31" letter-spacing="-0.409">Bulb</tspan> <tspan x="483.07" letter-spacing="1.741">Type</tspan> <tspan x="604.83" letter-spacing="1.042">Requirement</tspan></text>
<text transform="translate(472.71 334.80) scale(1.0181 1)" font-family="'Liberation Sans', sans-serif" font-size="47.82" fill="#111">B</text>
<text transform="translate(719.09 343.30) scale(0.9024 1)" font-family="'Liberation Sans', sans-serif" font-size="47.97" fill="#111">C</text>
<text transform="translate(951.97 325.60) scale(0.9016 1)" font-family="'Liberation Sans', sans-serif" font-size="48.40" fill="#111">CA</text>
<text x="404.0" y="442.0" font-family="'Liberation Sans', sans-serif" font-size="30.5" textLength="160.6" lengthAdjust="spacingAndGlyphs" fill="#111">Candelabra</text>
<text x="686.0" y="442.0" font-family="'Liberation Sans', sans-serif" font-size="30.5" textLength="97.6" lengthAdjust="spacingAndGlyphs" fill="#111">Candle</text>
<text x="929.3" y="442.0" font-family="'Liberation Sans', sans-serif" font-size="30.5" textLength="111.0" lengthAdjust="spacingAndGlyphs" fill="#111">Torpedo</text>
<text transform="translate(-10.48 787.80) scale(0.8560 1)" font-family="'Liberation Sans', sans-serif" font-size="48.98" fill="#111">A</text>
<text transform="translate(236.93 788.00) scale(0.9215 1)" font-family="'Liberation Sans', sans-serif" font-size="49.85" fill="#111">E</text>
<text transform="translate(505.81 785.30) scale(0.9783 1)" font-family="'Liberation Sans', sans-serif" font-size="48.84" fill="#111">G</text>
<text transform="translate(802.89 788.00) scale(0.9412 1)" font-family="'Liberation Sans', sans-serif" font-size="49.42" fill="#111">H</text>
<text transform="translate(1099.07 788.00) scale(0.9614 1)" font-family="'Liberation Sans', sans-serif" font-size="49.85" fill="#111">P</text>
<text transform="translate(1375.66 785.70) scale(0.9074 1)" font-family="'Liberation Sans', sans-serif" font-size="48.98" fill="#111">PS</text>
<text transform="translate(-8.90 1206.00) scale(0.9536 1)" font-family="'Liberation Sans', sans-serif" font-size="47.97" fill="#111">S</text>
<text transform="translate(236.16 1206.70) scale(0.9518 1)" font-family="'Liberation Sans', sans-serif" font-size="49.56" fill="#111">T</text>
<text transform="translate(513.05 1209.00) scale(0.9009 1)" font-family="'Liberation Sans', sans-serif" font-size="49.42" fill="#111">R</text>
<text transform="translate(790.35 1209.00) scale(0.9010 1)" font-family="'Liberation Sans', sans-serif" font-size="49.42" fill="#111">BR</text>
<text transform="translate(1079.55 1209.00) scale(0.9010 1)" font-family="'Liberation Sans', sans-serif" font-size="49.42" fill="#111">ER</text>
<text transform="translate(1360.49 1208.80) scale(0.8685 1)" font-family="'Liberation Sans', sans-serif" font-size="49.27" fill="#111">PAR</text>
</g>
<circle cx="9.5" cy="908.0" r="87.2" fill="none" stroke="#f70000" stroke-width="8.8"/><g transform="translate(9.5 909.0) rotate(45)" fill="#f70000"><rect x="-70.5" y="-15.8" width="141.0" height="31.5"/><rect x="-15.8" y="-70.5" width="31.5" height="141.0"/></g>
<circle cx="254.8" cy="908.0" r="87.2" fill="none" stroke="#f70000" stroke-width="8.8"/><g transform="translate(254.8 909.0) rotate(45)" fill="#f70000"><rect x="-70.5" y="-15.8" width="141.0" height="31.5"/><rect x="-15.8" y="-70.5" width="31.5" height="141.0"/></g>
<circle cx="527.4" cy="908.0" r="87.2" fill="none" stroke="#f70000" stroke-width="8.8"/><g transform="translate(527.4 909.0) rotate(45)" fill="#f70000"><rect x="-70.5" y="-15.8" width="141.0" height="31.5"/><rect x="-15.8" y="-70.5" width="31.5" height="141.0"/></g>
<circle cx="820.5" cy="908.0" r="87.2" fill="none" stroke="#f70000" stroke-width="8.8"/><g transform="translate(820.5 909.0) rotate(45)" fill="#f70000"><rect x="-70.5" y="-15.8" width="141.0" height="31.5"/><rect x="-15.8" y="-70.5" width="31.5" height="141.0"/></g>
<circle cx="1119.9" cy="908.0" r="87.2" fill="none" stroke="#f70000" stroke-width="8.8"/><g transform="translate(1119.9 909.0) rotate(45)" fill="#f70000"><rect x="-70.5" y="-15.8" width="141.0" height="31.5"/><rect x="-15.8" y="-70.5" width="31.5" height="141.0"/></g>
<circle cx="1410.6" cy="908.0" r="87.2" fill="none" stroke="#f70000" stroke-width="8.8"/><g transform="translate(1410.6 909.0) rotate(45)" fill="#f70000"><rect x="-70.5" y="-15.8" width="141.0" height="31.5"/><rect x="-15.8" y="-70.5" width="31.5" height="141.0"/></g>
<circle cx="9.5" cy="1332.5" r="87.2" fill="none" stroke="#f70000" stroke-width="8.8"/><g transform="translate(9.5 1333.5) rotate(45)" fill="#f70000"><rect x="-70.5" y="-15.8" width="141.0" height="31.5"/><rect x="-15.8" y="-70.5" width="31.5" height="141.0"/></g>
<circle cx="254.8" cy="1332.5" r="87.2" fill="none" stroke="#f70000" stroke-width="8.8"/><g transform="translate(254.8 1333.5) rotate(45)" fill="#f70000"><rect x="-70.5" y="-15.8" width="141.0" height="31.5"/><rect x="-15.8" y="-70.5" width="31.5" height="141.0"/></g>
<circle cx="526.2" cy="1332.5" r="87.2" fill="none" stroke="#f70000" stroke-width="8.8"/><g transform="translate(526.2 1333.5) rotate(45)" fill="#f70000"><rect x="-70.5" y="-15.8" width="141.0" height="31.5"/><rect x="-15.8" y="-70.5" width="31.5" height="141.0"/></g>
<circle cx="821.2" cy="1332.5" r="87.2" fill="none" stroke="#f70000" stroke-width="8.8"/><g transform="translate(821.2 1333.5) rotate(45)" fill="#f70000"><rect x="-70.5" y="-15.8" width="141.0" height="31.5"/><rect x="-15.8" y="-70.5" width="31.5" height="141.0"/></g>
<circle cx="1114.9" cy="1332.5" r="87.2" fill="none" stroke="#f70000" stroke-width="8.8"/><g transform="translate(1114.9 1333.5) rotate(45)" fill="#f70000"><rect x="-70.5" y="-15.8" width="141.0" height="31.5"/><rect x="-15.8" y="-70.5" width="31.5" height="141.0"/></g>
<circle cx="1411.0" cy="1332.5" r="87.2" fill="none" stroke="#f70000" stroke-width="8.8"/><g transform="translate(1411.0 1333.5) rotate(45)" fill="#f70000"><rect x="-70.5" y="-15.8" width="141.0" height="31.5"/><rect x="-15.8" y="-70.5" width="31.5" height="141.0"/></g>
</svg>
</body></html>
